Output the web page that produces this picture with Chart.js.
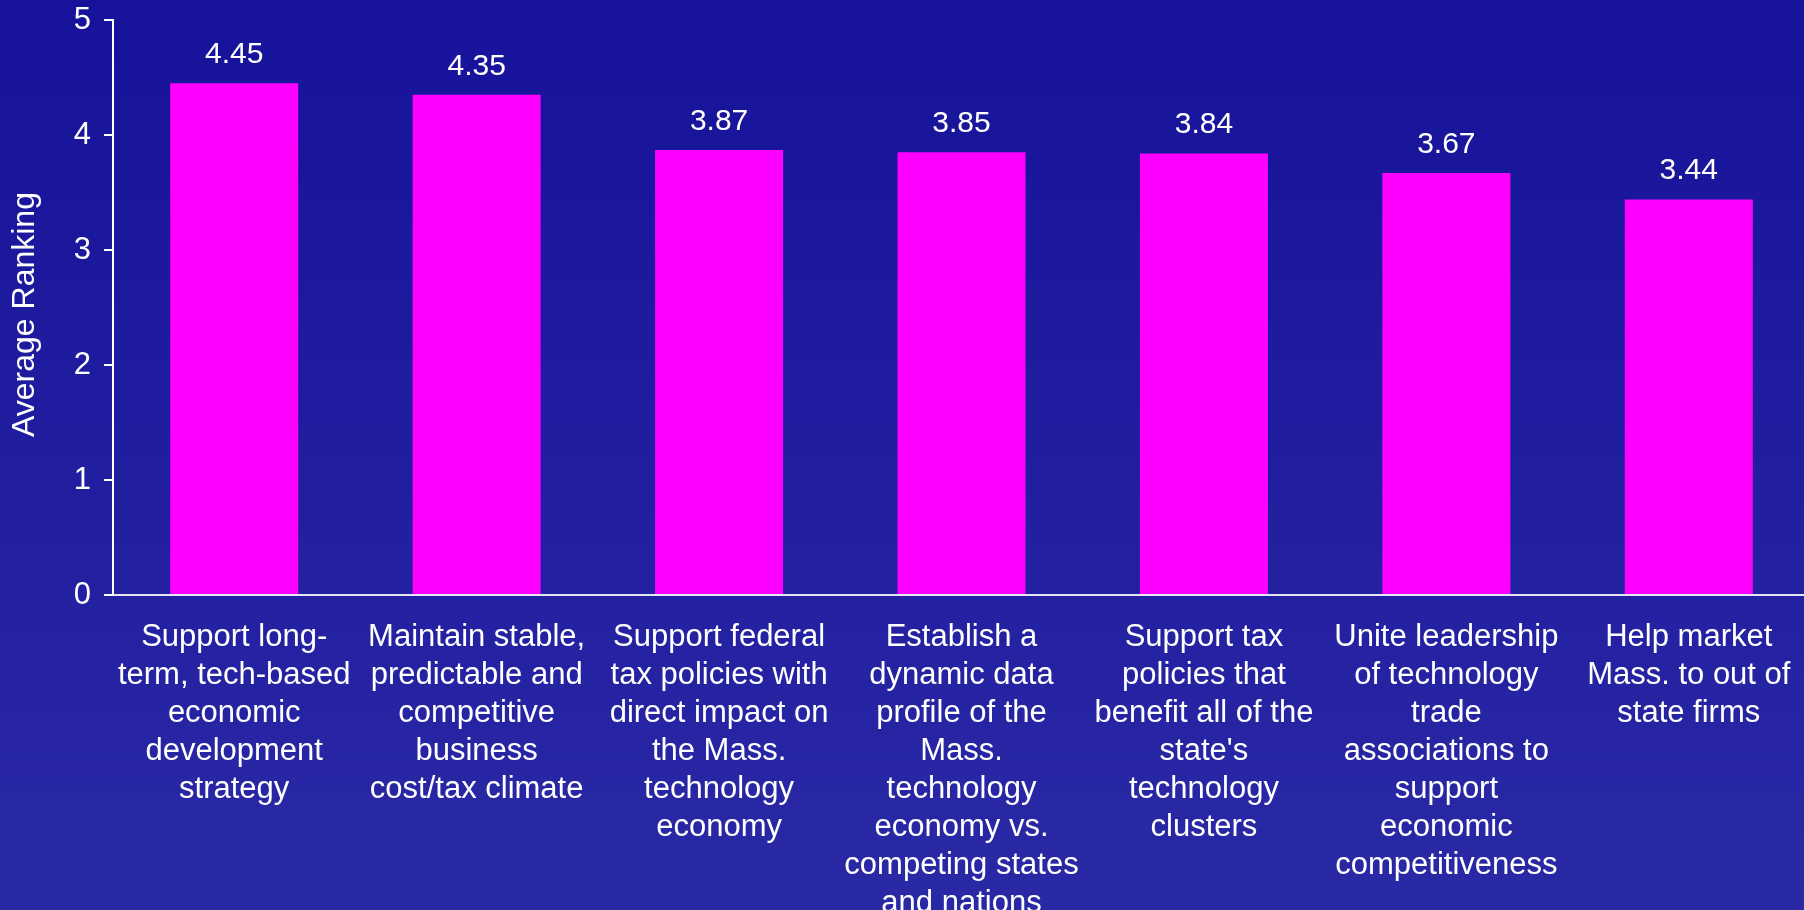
<!DOCTYPE html>
<html>
<head>
<meta charset="utf-8">
<script src="https://cdn.jsdelivr.net/npm/chart.js@4/dist/chart.umd.min.js"></script>
<style>
  html, body { margin: 0; padding: 0; overflow: hidden; }
  body { width: 1804px; height: 910px; background: linear-gradient(to bottom, #16129a 0%, #2a29a5 100%); }
  #wrap { position: absolute; left: 0; top: 0; width: 1810px; height: 910px; }
</style>
</head>
<body>
<div id="wrap"><canvas id="c"></canvas></div>
<script>
const categories = [
  ["Support long-", "term, tech-based", "economic", "development", "strategy"],
  ["Maintain stable,", "predictable and", "competitive", "business", "cost/tax climate"],
  ["Support federal", "tax policies with", "direct impact on", "the Mass.", "technology", "economy"],
  ["Establish a", "dynamic data", "profile of the", "Mass.", "technology", "economy vs.", "competing states", "and nations"],
  ["Support tax", "policies that", "benefit all of the", "state's", "technology", "clusters"],
  ["Unite leadership", "of technology", "trade", "associations to", "support", "economic", "competitiveness"],
  ["Help market", "Mass. to out of", "state firms"]
];
const averageRanking = [4.45, 4.35, 3.87, 3.85, 3.84, 3.67, 3.44];
const yTicks = [0, 1, 2, 3, 4, 5];
const yAxisTitle = "Average Ranking";

const FONT = "'Liberation Sans', Arial, sans-serif";

const valueLabels = {
  id: 'valueLabels',
  afterDatasetsDraw(chart) {
    const ctx = chart.ctx;
    const meta = chart.getDatasetMeta(0);
    ctx.save();
    ctx.fillStyle = '#ffffff';
    ctx.font = "30px " + FONT;
    ctx.textAlign = 'center';
    ctx.textBaseline = 'alphabetic';
    meta.data.forEach((bar, i) => {
      ctx.fillText(averageRanking[i].toFixed(2), bar.x, bar.y - 20);
    });
    // y-axis title
    const area = chart.chartArea;
    ctx.translate(25, (area.top + area.bottom) / 2 + 7);
    ctx.rotate(-Math.PI / 2);
    ctx.font = "32px " + FONT;
    ctx.textBaseline = 'middle';
    ctx.fillText(yAxisTitle, 0, 0);
    ctx.restore();
  }
};

new Chart(document.getElementById('c'), {
  type: 'bar',
  data: {
    labels: categories,
    datasets: [{
      data: averageRanking,
      backgroundColor: '#ff00ff',
      borderWidth: 0,
      categoryPercentage: 1.0,
      barPercentage: 0.528
    }]
  },
  options: {
    responsive: true,
    maintainAspectRatio: false,
    animation: false,
    layout: { padding: { top: 20, left: 0, right: 0, bottom: 0 } },
    plugins: { legend: { display: false }, tooltip: { enabled: false } },
    scales: {
      x: {
        grid: { display: true, drawOnChartArea: false, drawTicks: false },
        border: { display: true, color: '#e6e6f2', width: 2 },
        ticks: {
          color: '#ffffff',
          font: { family: FONT, size: 31, lineHeight: 1.226 },
          padding: 23,
          maxRotation: 0,
          autoSkip: false
        },
        afterFit(s) { s.height = 315; s.paddingLeft = 0; s.paddingRight = 0; }
      },
      y: {
        min: 0,
        max: 5,
        afterBuildTicks(s) { s.ticks = yTicks.map(v => ({ value: v })); },
        grid: { display: true, drawOnChartArea: false, drawTicks: true, tickLength: 9, color: '#ffffff', lineWidth: 2 },
        border: { display: true, color: '#ffffff', width: 2 },
        ticks: {
          color: '#ffffff',
          font: { family: FONT, size: 31 },
          padding: 13
        },
        afterFit(s) { s.width = 113; s.paddingTop = 0; s.paddingBottom = 0; }
      }
    }
  },
  plugins: [valueLabels]
});
</script>
</body>
</html>
